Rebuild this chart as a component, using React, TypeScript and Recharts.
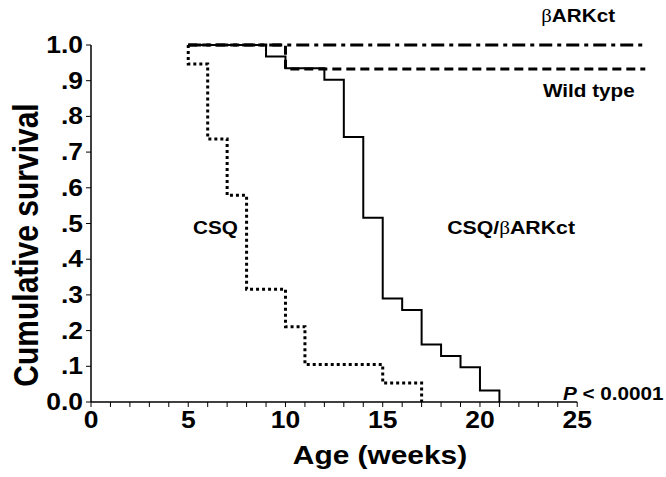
import { LineChart, Line, XAxis, YAxis, ReferenceLine, ReferenceDot, Label } from 'recharts'

// Kaplan-Meier survival, weeks vs cumulative survival
const weekTicks = [0, 1, 2, 3, 4, 5, 6, 7, 8, 9, 10, 11, 12, 13, 14, 15, 16, 17, 18, 19, 20, 21, 22, 23, 24, 25]
const survivalTicks = [0, 0.1, 0.2, 0.3, 0.4, 0.5, 0.6, 0.7, 0.8, 0.9, 1]

const csqWeeks = [5, 5, 6, 7, 8, 10, 11, 15, 17]
const csqSurvival = [1, 0.947, 0.737, 0.579, 0.316, 0.211, 0.105, 0.053, 0]

const csqBarkWeeks = [5, 9, 10, 12, 13, 14, 15, 16, 17, 18, 19, 20, 21]
const csqBarkSurvival = [1, 0.968, 0.935, 0.903, 0.742, 0.516, 0.29, 0.258, 0.161, 0.129, 0.097, 0.032, 0]

const wildWeeks = [5, 10, 28.5]
const wildSurvival = [1, 0.933, 0.933]

const barkWeeks = [5, 28.5]
const barkSurvival = [1, 1]

const toPoints = (weeks: number[], surv: number[]) =>
  weeks.map((w, i) => ({ week: w, survival: surv[i] }))

const FONT = '"Liberation Sans", Arial, Helvetica, sans-serif'
const SX = 1.15

const StretchText = ({ x, y, size, anchor = 'middle', children }: any) => (
  <text
    transform={`translate(${x},${y}) scale(${SX},1)`}
    textAnchor={anchor}
    fontFamily={FONT}
    fontWeight="bold"
    fontSize={size}
    fill="#000"
  >
    {children}
  </text>
)

const Beta = () => (
  <tspan fontFamily='"Liberation Serif", serif' fontWeight="normal">β</tspan>
)

const XTick = ({ x, y, payload }: any) => {
  if (payload.value % 5 !== 0) return <g />
  return <StretchText x={x} y={y + 19} size={23}>{payload.value}</StretchText>
}

const YTick = ({ x, y, payload }: any) => {
  const v = payload.value
  const text = v === 0 ? '0.0' : v === 1 ? '1.0' : '.' + Math.round(v * 10)
  return <StretchText x={x - 1} y={y + 8} size={23} anchor="end">{text}</StretchText>
}

const note = (content: any, size = 18) => (props: any) => (
  <StretchText x={props.viewBox.x} y={props.viewBox.y} size={size}>{content}</StretchText>
)

export default function App() {
  return (
    <div style={{ position: 'absolute', left: 0, top: 0, width: 666, height: 477, background: '#fff' }}>
      <LineChart width={666} height={477} margin={{ top: 45, right: 11, bottom: 0, left: 0 }}>
        <XAxis
          type="number"
          dataKey="week"
          domain={[0, 29]}
          ticks={weekTicks}
          interval={0}
          axisLine={false}
          tickLine={{ stroke: '#000', strokeWidth: 1 }}
          tickSize={5}
          height={75}
          tick={<XTick />}
          allowDuplicatedCategory={false}
        >
          <Label
            content={(p: any) => (
              <StretchText x={p.viewBox.x + 289} y={p.viewBox.y + 62} size={26}>
                Age (weeks)
              </StretchText>
            )}
          />
        </XAxis>
        <YAxis
          type="number"
          domain={[0, 1]}
          ticks={survivalTicks}
          interval={0}
          width={91}
          axisLine={{ stroke: '#000', strokeWidth: 1.5 }}
          tickLine={{ stroke: '#000', strokeWidth: 1 }}
          tickSize={5}
          tick={<YTick />}
        >
          <Label
            content={(p: any) => {
              const cx = 26
              const cy = p.viewBox.y + 200
              return (
                <text
                  transform={`translate(${cx},${cy}) scale(${SX},1) rotate(-90)`}
                  textAnchor="middle"
                  dominantBaseline="central"
                  fontFamily={FONT}
                  fontWeight="bold"
                  fontSize={30}
                  fill="#000"
                >
                  Cumulative survival
                </text>
              )
            }}
          />
        </YAxis>

        <ReferenceLine segment={[{ x: 0, y: 0 }, { x: 25, y: 0 }]} stroke="#000" strokeWidth={1.5} />

        <Line
          data={toPoints(csqBarkWeeks, csqBarkSurvival)}
          dataKey="survival"
          type="stepAfter"
          stroke="#000"
          strokeWidth={2}
          dot={false}
          isAnimationActive={false}
        />
        <Line
          data={toPoints(csqWeeks, csqSurvival)}
          dataKey="survival"
          type="stepAfter"
          stroke="#000"
          strokeWidth={3}
          strokeDasharray="3 3"
          dot={false}
          isAnimationActive={false}
        />
        <Line
          data={toPoints(wildWeeks, wildSurvival)}
          dataKey="survival"
          type="stepAfter"
          stroke="#000"
          strokeWidth={3}
          strokeDasharray="9 5"
          dot={false}
          isAnimationActive={false}
        />
        <Line
          data={toPoints(barkWeeks, barkSurvival)}
          dataKey="survival"
          type="stepAfter"
          stroke="#000"
          strokeWidth={3}
          strokeDasharray="13 5 4 5"
          dot={false}
          isAnimationActive={false}
        />

        <ReferenceDot x={25.05} y={1.064} r={0} ifOverflow="visible" label={note(<><Beta />ARKct</>)} />
        <ReferenceDot x={25.6} y={0.854} r={0} ifOverflow="visible" label={note('Wild type')} />
        <ReferenceDot x={6.4} y={0.47} r={0} ifOverflow="visible" label={note('CSQ')} />
        <ReferenceDot x={21.6} y={0.47} r={0} ifOverflow="visible" label={note(<>CSQ/<Beta />ARKct</>, 18.5)} />
        <ReferenceDot
          x={26.85}
          y={0.006}
          r={0}
          ifOverflow="visible"
          label={note(<><tspan fontStyle="italic">P</tspan> &lt; 0.0001</>)}
        />
      </LineChart>
    </div>
  )
}
